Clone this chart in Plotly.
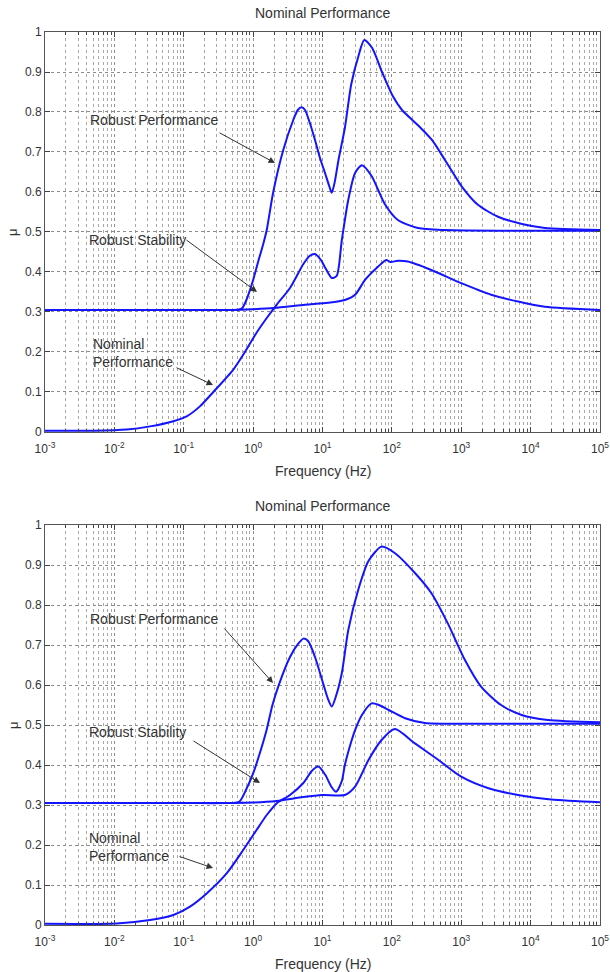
import plotly.graph_objects as go

# ---------------- data (frequency in Hz, mu values) ----------------
# Top panel
top_rp_f = [0.001, 0.01, 0.1, 0.3, 0.5, 0.63, 0.7, 0.8, 0.9, 1.0, 1.2, 1.4, 1.57, 1.95, 2.72, 3.79, 4.4, 5.0, 5.6, 6.5, 7.8, 9.2, 10.9, 12.5, 13.6, 15.0, 17.0, 21.0, 26.0, 33.0, 40.0, 52.0, 72.0, 103.0, 140.0, 238.0, 378.0, 583.0, 1026.0, 1740.0, 3390.0, 7500.0, 16100.0, 100000.0]
top_rp_v = [0.305, 0.305, 0.305, 0.305, 0.305, 0.306, 0.31, 0.33, 0.355, 0.38, 0.43, 0.47, 0.505, 0.60, 0.705, 0.78, 0.805, 0.812, 0.805, 0.775, 0.73, 0.685, 0.647, 0.615, 0.598, 0.625, 0.68, 0.76, 0.87, 0.94, 0.98, 0.96, 0.90, 0.84, 0.805, 0.767, 0.73, 0.68, 0.613, 0.568, 0.538, 0.52, 0.51, 0.505]

top_rs_f = [0.001, 0.005, 0.0151, 0.0327, 0.0708, 0.11, 0.171, 0.267, 0.518, 0.763, 1.12, 1.57, 2.18, 3.4, 5.3, 6.5, 7.8, 9.5, 11.0, 13.6, 16.0, 19.0, 23.5, 29.4, 37.0, 51.0, 79.0, 122.0, 238.0, 583.0, 100000.0]
top_rs_v = [0.003, 0.003, 0.006, 0.014, 0.027, 0.039, 0.064, 0.10, 0.156, 0.20, 0.248, 0.285, 0.318, 0.36, 0.42, 0.44, 0.445, 0.43, 0.41, 0.385, 0.39, 0.48, 0.58, 0.647, 0.667, 0.64, 0.57, 0.53, 0.51, 0.505, 0.503]

top_np_f = [0.001, 0.01, 0.1, 0.5, 1.0, 2.0, 5.6, 12.0, 21.0, 29.5, 41.0, 63.0, 83.0, 95.0, 122.0, 170.0, 370.0, 1000.0, 2700.0, 6600.0, 16000.0, 100000.0]
top_np_v = [0.305, 0.305, 0.305, 0.305, 0.307, 0.31, 0.318, 0.323, 0.33, 0.343, 0.38, 0.413, 0.43, 0.425, 0.428, 0.426, 0.405, 0.372, 0.343, 0.326, 0.313, 0.305]

# Bottom panel
bot_rp_f = [0.001, 0.01, 0.1, 0.4, 0.63, 0.8, 1.0, 1.2, 1.56, 1.9, 2.3, 3.4, 4.5, 5.3, 6.2, 7.8, 10.2, 12.0, 13.6, 15.5, 19.0, 23.5, 33.0, 46.0, 71.0, 110.0, 215.0, 370.0, 640.0, 1130.0, 1930.0, 3750.0, 7400.0, 17700.0, 100000.0]
bot_rp_v = [0.305, 0.305, 0.305, 0.305, 0.308, 0.34, 0.379, 0.42, 0.487, 0.55, 0.596, 0.67, 0.704, 0.716, 0.71, 0.67, 0.604, 0.565, 0.546, 0.57, 0.63, 0.737, 0.84, 0.91, 0.946, 0.93, 0.88, 0.83, 0.754, 0.6625, 0.596, 0.55, 0.525, 0.5125, 0.507]

bot_rs_f = [0.001, 0.0108, 0.0327, 0.0708, 0.123, 0.214, 0.415, 0.72, 1.12, 1.57, 2.18, 3.4, 5.3, 7.0, 8.7, 11.0, 13.5, 15.7, 19.0, 21.0, 26.4, 29.5, 37.0, 51.0, 65.0, 90.0, 155.0, 300.0, 1000.0, 100000.0]
bot_rs_v = [0.003, 0.004, 0.0125, 0.025, 0.046, 0.079, 0.129, 0.1875, 0.2375, 0.275, 0.304, 0.325, 0.355, 0.385, 0.396, 0.375, 0.345, 0.333, 0.36, 0.40, 0.4625, 0.4875, 0.525, 0.554, 0.55, 0.5375, 0.517, 0.505, 0.503, 0.503]

bot_np_f = [0.001, 0.01, 0.1, 0.5, 1.0, 2.18, 5.3, 10.0, 21.0, 29.5, 46.0, 71.0, 110.0, 215.0, 470.0, 1000.0, 2470.0, 6600.0, 19700.0, 100000.0]
bot_np_v = [0.305, 0.305, 0.305, 0.305, 0.306, 0.31, 0.32, 0.325, 0.325, 0.346, 0.4125, 0.4625, 0.49, 0.454, 0.4125, 0.371, 0.342, 0.325, 0.314, 0.307]

x_tickvals = [0.001, 0.01, 0.1, 1, 10, 100, 1000, 10000, 100000]
x_ticktext = ["10<sup>-3</sup>", "10<sup>-2</sup>", "10<sup>-1</sup>", "10<sup>0</sup>", "10<sup>1</sup>",
              "10<sup>2</sup>", "10<sup>3</sup>", "10<sup>4</sup>", "10<sup>5</sup>"]
y_ticks = [0, 0.1, 0.2, 0.3, 0.4, 0.5, 0.6, 0.7, 0.8, 0.9, 1]
panel_title = "Nominal Performance"
x_label = "Frequency (Hz)"
y_label = "\u03bc"

# ---------------- figure ----------------
FONT = "Liberation Sans, Arial, Helvetica, sans-serif"
BLUE = "rgb(20,20,255)"
TXT = "#333333"

fig = go.Figure()
panels = [
    ("x", "y", [(top_rp_f, top_rp_v), (top_rs_f, top_rs_v), (top_np_f, top_np_v)]),
    ("x2", "y2", [(bot_rp_f, bot_rp_v), (bot_rs_f, bot_rs_v), (bot_np_f, bot_np_v)]),
]
for xa, ya, curves in panels:
    for f, v in curves:
        fig.add_trace(go.Scatter(x=f, y=v, xaxis=xa, yaxis=ya, mode="lines",
                                 line=dict(color=BLUE, width=2, shape="spline", smoothing=0.7),
                                 showlegend=False, hoverinfo="skip", cliponaxis=True))

xax = dict(type="log", range=[-3, 5], tickvals=x_tickvals, ticktext=x_ticktext,
           automargin=False,
           showgrid=True, gridcolor="#8c8c8c", griddash="dot", gridwidth=1,
           ticks="inside", ticklen=5, tickcolor="#444", mirror="ticks",
           showline=True, linecolor="#555", linewidth=1, zeroline=False,
           ticklabelstandoff=6,
           tickfont=dict(family=FONT, size=12, color=TXT),
           minor=dict(dtick="D1", showgrid=True, gridcolor="#a8a8a8", griddash="dot",
                      gridwidth=1, ticks="inside", ticklen=3, tickcolor="#444"))
yax = dict(range=[0, 1], tickvals=y_ticks, showgrid=True, gridcolor="#8c8c8c", griddash="dot",
           automargin=False,
           ticks="inside", ticklen=5, tickcolor="#444", mirror="ticks",
           showline=True, linecolor="#555", linewidth=1, zeroline=False,
           tickfont=dict(family=FONT, size=12, color=TXT))

top_dom = [0.5521, 1.0]
bot_dom = [0.0, 0.4479]
fig.update_layout(
    width=610, height=972, margin=dict(l=45, r=10, t=32, b=47, autoexpand=False),
    paper_bgcolor="white", plot_bgcolor="white",
    xaxis=dict(xax, anchor="y", domain=[0, 1]),
    yaxis=dict(yax, anchor="x", domain=top_dom),
    xaxis2=dict(xax, anchor="y2", domain=[0, 1]),
    yaxis2=dict(yax, anchor="x2", domain=bot_dom),
)

ann = []
for xr, yr in [("x", "y"), ("x2", "y2")]:
    ann.append(dict(text=panel_title, xref=xr + " domain", yref=yr + " domain", x=0.5, y=1,
                    xanchor="center", yanchor="bottom", yshift=9, showarrow=False,
                    font=dict(family=FONT, size=14, color=TXT)))
    ann.append(dict(text=x_label, xref=xr + " domain", yref=yr + " domain", x=0.5, y=0,
                    xanchor="center", yanchor="top", yshift=-29, showarrow=False,
                    font=dict(family=FONT, size=14, color=TXT)))
    ann.append(dict(text=y_label, xref=xr + " domain", yref=yr + " domain", x=0, y=0.5,
                    xanchor="center", yanchor="middle", xshift=-32, textangle=-90, showarrow=False,
                    font=dict(family=FONT, size=13, color=TXT)))

# labels: (xref, yref, text, x(log10), y)
labels = [
    ("x", "y", "Robust Performance", -2.38, 0.78),
    ("x", "y", "Robust Stability", -2.395, 0.48),
    ("x", "y", "Nominal<br>Performance", -2.337, 0.1975),
    ("x2", "y2", "Robust Performance", -2.38, 0.765),
    ("x2", "y2", "Robust Stability", -2.395, 0.4825),
    ("x2", "y2", "Nominal<br>Performance", -2.395, 0.194),
]
for xr, yr, t, x, y in labels:
    ann.append(dict(text=t, xref=xr, yref=yr, x=x, y=y, xanchor="left", yanchor="middle",
                    align="left", showarrow=False, font=dict(family=FONT, size=14, color=TXT)))

# arrows: (xref, yref, tail_x, tail_y, head_x, head_y)  x in log10 units
arrows = [
    ("x", "y", -0.506, 0.75, 0.315, 0.6725),
    ("x", "y", -0.982, 0.4825, 0.056, 0.35),
    ("x", "y", -1.126, 0.1625, -0.578, 0.1175),
    ("x2", "y2", -0.434, 0.745, 0.287, 0.605),
    ("x2", "y2", -0.881, 0.4625, 0.099, 0.355),
    ("x2", "y2", -1.083, 0.1725, -0.578, 0.1425),
]
for xr, yr, tx, ty, hx, hy in arrows:
    ann.append(dict(text="", xref=xr, yref=yr, x=hx, y=hy, axref=xr, ayref=yr, ax=tx, ay=ty,
                    showarrow=True, arrowhead=2, arrowsize=1.3, arrowwidth=1, arrowcolor="#333"))

fig.update_layout(annotations=ann)
fig.write_html("out.html")
